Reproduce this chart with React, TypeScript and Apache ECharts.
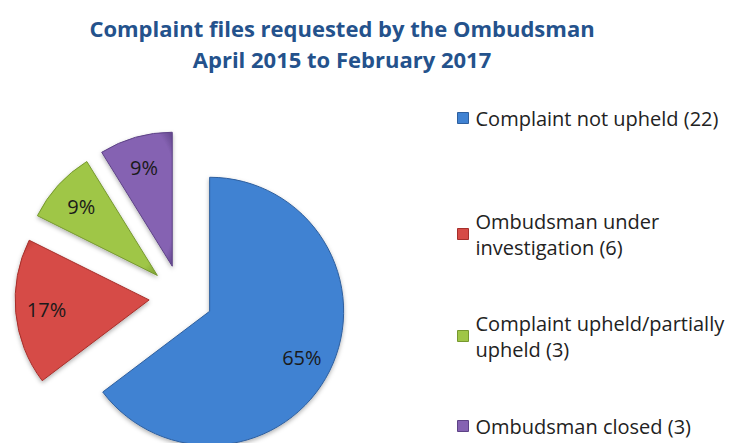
import React, { useEffect, useRef } from "react";
import * as echarts from "echarts";

const titleLines = ["Complaint files requested by the Ombudsman", "April 2015 to February 2017"];
const categories = [
  "Complaint not upheld",
  "Ombudsman under investigation",
  "Complaint upheld/partially upheld",
  "Ombudsman closed",
];
const counts = [22, 6, 3, 3];
const percentLabels = ["65%", "17%", "9%", "9%"];
const legendLabels = [
  "Complaint not upheld (22)",
  "Ombudsman under\ninvestigation (6)",
  "Complaint upheld/partially\nupheld (3)",
  "Ombudsman closed (3)",
];
const colorsLight = ["#4082d2", "#d64b46", "#9fc646", "#8562b2"];
const colorsDark = ["#2e5f9e", "#a62f2b", "#76982f", "#5d4286"];
const legendTops = [105, 195, 297, 413];

export default function App() {
  const ref = useRef<HTMLDivElement>(null);
  useEffect(() => {
    document.body.style.margin = "0";
    const chart = echarts.init(ref.current!, null, { renderer: "svg" });
    const grad = (i: number) =>
      new echarts.graphic.RadialGradient(0.5, 0.5, 0.72, [
        { offset: 0, color: colorsLight[i] },
        { offset: 0.8, color: colorsLight[i] },
        { offset: 1, color: colorsDark[i] },
      ]);
    const font = "'Open Sans', sans-serif";
    const legends = categories.map((c, i) => ({
      left: 457,
      top: legendTops[i],
      orient: "vertical" as const,
      padding: 0,
      itemWidth: 11,
      itemHeight: 11,
      icon: "rect",
      data: [c],
      selectedMode: false,
      itemStyle: { color: colorsLight[i], borderColor: colorsDark[i], borderWidth: 1 },
      formatter: (name: string) => legendLabels[categories.indexOf(name)],
      textStyle: {
        fontFamily: font,
        fontSize: 20,
        color: "#222",
        lineHeight: 26,
        padding: legendLabels[i].includes("\n") ? [26, 0, 0, 2] : [0, 0, 0, 2],
      },
    }));
    chart.setOption({
      animation: false,
      title: {
        text: titleLines.join("\n"),
        left: 337,
        top: 7,
        textAlign: "center",
        textStyle: {
          fontFamily: font,
          fontWeight: "bold",
          fontSize: 22,
          lineHeight: 31,
          color: "#24528c",
        },
      },
      legend: legends,
      series: [
        {
          type: "pie",
          center: [181, 297],
          radius: 134,
          startAngle: 90,
          clockwise: true,
          selectedMode: "multiple",
          selectedOffset: 32,
          emphasis: { disabled: true },
          label: { show: false },
          labelLine: { show: false },
          data: categories.map((c, i) => ({
            name: c,
            value: counts[i],
            selected: true,
            itemStyle: {
              color: grad(i),
              borderColor: colorsDark[i],
              borderWidth: 1,
              shadowBlur: 4,
              shadowColor: "rgba(0,0,0,0.3)",
              shadowOffsetY: 2,
            },
          })),
        },
        {
          type: "pie",
          center: [181, 297],
          radius: [66, 134],
          startAngle: 90,
          clockwise: true,
          selectedMode: "multiple",
          selectedOffset: 32,
          silent: true,
          emphasis: { disabled: true },
          itemStyle: { color: "rgba(0,0,0,0)" },
          label: {
            show: true,
            position: "inside",
            formatter: (p: any) => percentLabels[p.dataIndex],
            fontFamily: font,
            fontSize: 20,
            color: "#1a1a1a",
          },
          labelLine: { show: false },
          data: categories.map((c, i) => ({ name: c, value: counts[i], selected: true })),
        },
      ],
    });
    return () => chart.dispose();
  }, []);
  return <div ref={ref} style={{ width: 745, height: 443 }} />;
}
